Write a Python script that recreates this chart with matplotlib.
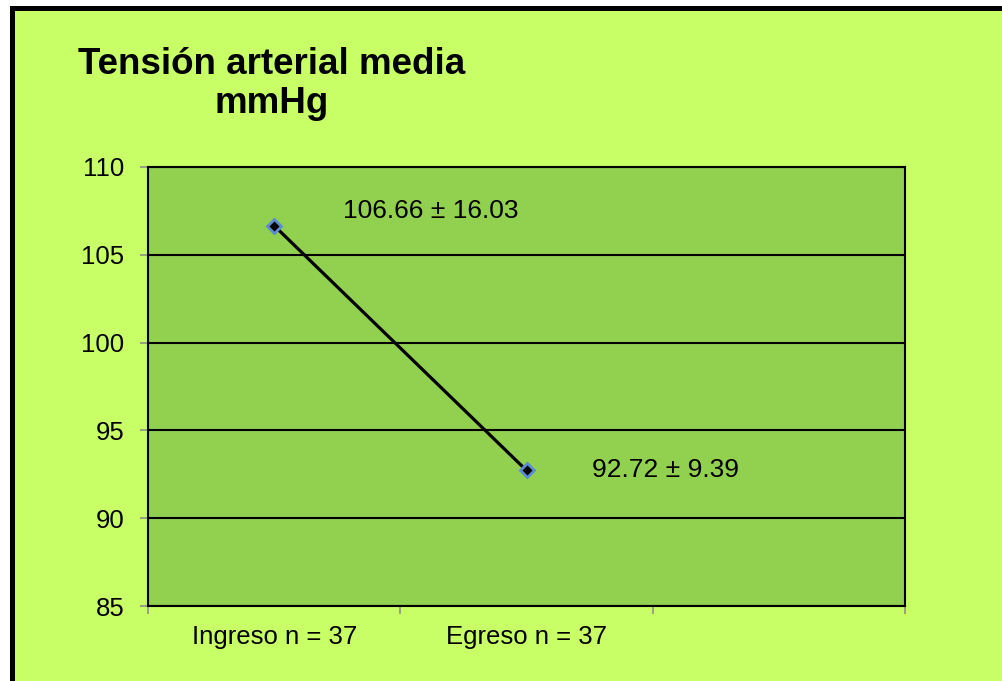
import matplotlib
matplotlib.use("Agg")
import matplotlib.pyplot as plt
from matplotlib.patches import Rectangle
from matplotlib.ticker import FixedLocator, NullFormatter

plt.rcParams['font.family'] = ['Liberation Sans', 'DejaVu Sans']

categories = ["Ingreso n = 37", "Egreso n = 37"]
means = [106.66, 92.72]
sds = [16.03, 9.39]
y_ticks = [85, 90, 95, 100, 105, 110]

page_bg = "#C8FF66"
plot_bg = "#92D050"

fig = plt.figure(figsize=(10.02, 6.81), dpi=100, facecolor="white")

# page frame: thick black edge along the top and left
W, H = 1002, 681
frame = Rectangle((11.5 / W, -0.2), 1.2, 1.2 - 7.5 / H,
                  transform=fig.transFigure, facecolor=page_bg,
                  edgecolor="black", linewidth=3.6, zorder=0)
fig.add_artist(frame)

ax = fig.add_axes([148 / W, 1 - 606 / H, (905 - 148) / W, (606 - 167) / H])
ax.set_facecolor(plot_bg)

x = [i + 0.5 for i in range(len(categories))]
ax.plot(x, means, color="black", linewidth=2.3, zorder=3)
ax.plot(x, means, linestyle="none", marker="D", markersize=7.5,
        markerfacecolor="black", markeredgecolor="#5B8BD0",
        markeredgewidth=2.0, zorder=4)

# value labels: mean ± sd
offsets = [(0.62, 0.85), (0.55, 0.0)]
for xi, m, s, (dx, dy) in zip(x, means, sds, offsets):
    ax.text(xi + dx, m + dy, f"{m:.2f} ± {s:.2f}", fontsize=19,
            ha="center", va="center", color="black", zorder=5)

ax.set_xlim(0, 3)
ax.set_ylim(85, 110)
ax.set_yticks(y_ticks)
ax.set_yticklabels([str(t) for t in y_ticks])
ax.yaxis.grid(True, color="black", linewidth=1.5)
ax.set_axisbelow(True)

ax.xaxis.set_major_locator(FixedLocator([0, 1, 2, 3]))
ax.xaxis.set_major_formatter(NullFormatter())
ax.xaxis.set_minor_locator(FixedLocator(x))
ax.set_xticklabels(categories, minor=True)
ax.tick_params(axis="x", which="minor", length=0, pad=14, labelsize=18.5)
ax.tick_params(axis="x", which="major", length=6, width=1.2, color="#909090")
ax.tick_params(axis="y", length=6, width=1.2, color="#909090",
               pad=11, labelsize=18.5)

for sp in ax.spines.values():
    sp.set_color("black")
    sp.set_linewidth(1.5)

fig.text(272 / W, 1 - 84 / H, "Tensión arterial media\nmmHg",
         fontsize=26.5, fontweight="bold", ha="center", va="center",
         multialignment="center", linespacing=1.15)

fig.savefig("out.png", dpi=100, facecolor=fig.get_facecolor())
